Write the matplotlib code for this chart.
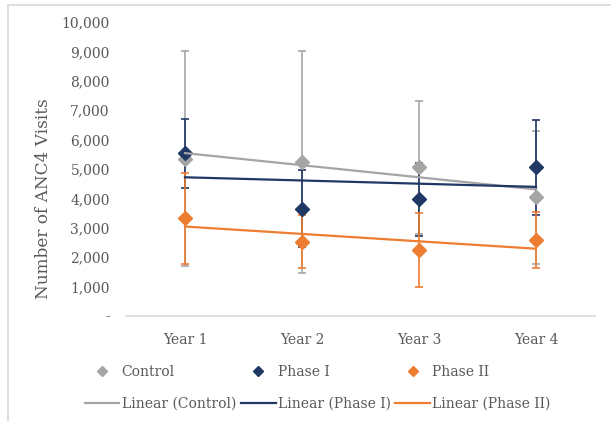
import numpy as np
import matplotlib
matplotlib.use("Agg")
import matplotlib.pyplot as plt
from matplotlib.lines import Line2D
from matplotlib.ticker import FuncFormatter

years = ["Year 1", "Year 2", "Year 3", "Year 4"]
control = [5350, 5245, 5060, 4040]
control_err = [3650, 3770, 2270, 2260]
phase1 = [5530, 3655, 3975, 5060]
phase1_err = [1170, 1300, 1240, 1620]
phase2 = [3320, 2530, 2235, 2580]
phase2_err = [1560, 900, 1260, 950]

series = [
    ("Control", control, control_err, "#A5A5A5"),
    ("Phase I", phase1, phase1_err, "#1F3864"),
    ("Phase II", phase2, phase2_err, "#ED7D31"),
]

plt.rcParams["font.family"] = ["DejaVu Serif"]

fig = plt.figure(figsize=(6.11, 4.21), dpi=100)
ax = fig.add_axes([0.207, 0.2494, 0.766, 0.6983])

x = np.arange(1, len(years) + 1)
handles = []
for name, vals, err, color in series:
    ax.errorbar(x, vals, yerr=err, fmt="none", ecolor=color, elinewidth=1.2,
                capsize=3, capthick=1.2, zorder=2)
    ax.plot(x, vals, "D", color=color, markersize=7, zorder=3)
    k, b = np.polyfit(x, vals, 1)
    ax.plot(x, k * x + b, color=color, linewidth=1.6, zorder=4)
    handles.append(Line2D([], [], marker="D", color=color, linestyle="none",
                          markersize=5, label=name))
    handles.append(Line2D([], [], color=color, linewidth=1.6,
                          label=f"Linear ({name})"))

ax.set_xlim(0.5, 4.5)
ax.set_ylim(0, 10000)
ax.set_yticks(range(0, 10001, 1000))
ax.yaxis.set_major_formatter(FuncFormatter(lambda v, p: "-" if v == 0 else f"{v:,.0f}"))
ax.set_xticks(x)
ax.set_xticklabels(years)
ax.tick_params(length=0, labelsize=10, labelcolor="#595959")
ax.tick_params(axis="y", pad=12)
ax.tick_params(axis="x", pad=12)
for s in ["top", "right", "left"]:
    ax.spines[s].set_visible(False)
ax.spines["bottom"].set_color("#D9D9D9")
ax.spines["bottom"].set_linewidth(1.2)
ax.set_ylabel("Number of ANC4 Visits", fontsize=12.2, color="#595959")
ax.yaxis.set_label_coords(-0.16, 0.40)

fig.legend(handles=handles, ncol=3, loc="center", bbox_to_anchor=(0.52, 0.078),
           frameon=False, fontsize=10, labelcolor="#595959", handlelength=2.5,
           handletextpad=0.15, columnspacing=0.35, labelspacing=1.28)

# light frame edges visible in the cropped original
fig.add_artist(Line2D([0.013, 1], [0.988, 0.988], color="#D9D9D9", linewidth=1.2,
                      transform=fig.transFigure))
fig.add_artist(Line2D([0.013, 0.013], [0, 0.988], color="#D9D9D9", linewidth=1.2,
                      transform=fig.transFigure))

fig.savefig("out.png", dpi=100)
